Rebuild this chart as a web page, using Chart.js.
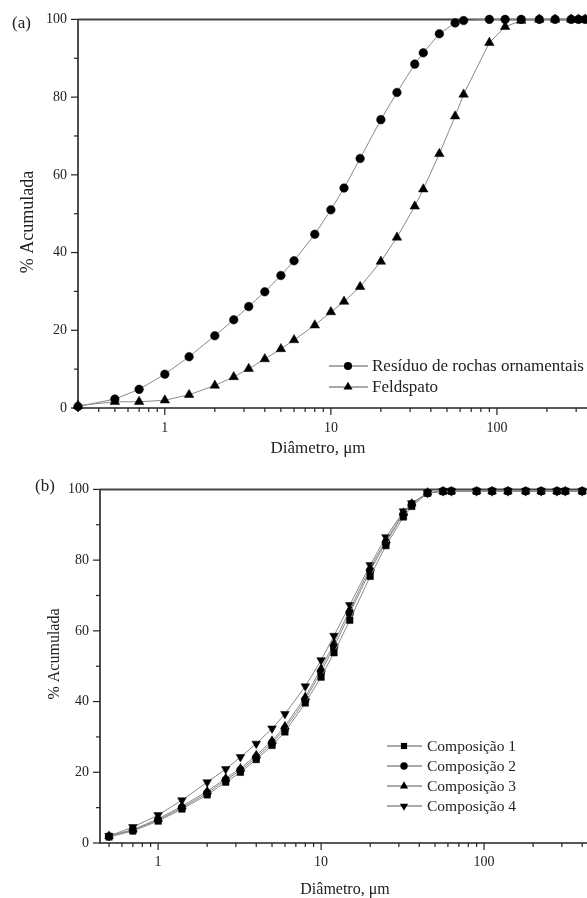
<!DOCTYPE html>
<html><head><meta charset="utf-8">
<script src="https://cdn.jsdelivr.net/npm/chart.js@4.4.1/dist/chart.umd.min.js"></script>
<style>
html,body{margin:0;padding:0;background:#fff;overflow:hidden;}
#wrap{position:relative;width:587px;height:898px;overflow:hidden;background:#fff;}
canvas{position:absolute;left:0;}
#ca{top:0;} #cb{top:470px;}
</style></head><body>
<div id="wrap"><canvas id="ca" width="640" height="470"></canvas><canvas id="cb" width="640" height="428"></canvas></div>
<script>
// ---------- data ----------
const diamA = [0.3,0.5,0.7,1,1.4,2,2.6,3.2,4,5,6,8,10,12,15,20,25,32,36,45,56,63,90,112,140,180,224,280,310,340];
const residuo = [0.4,2.3,4.8,8.7,13.2,18.6,22.7,26.1,29.9,34.1,37.9,44.7,51.0,56.6,64.2,74.2,81.2,88.5,91.4,96.3,99.1,99.7,100,100,100,100,100,100,100,100];
const feldspato = [0.6,1.6,1.6,2.0,3.4,5.8,8.0,10.1,12.6,15.2,17.5,21.3,24.7,27.4,31.2,37.7,43.9,51.9,56.3,65.4,75.1,80.7,94.0,98.1,99.7,100,100,100,100,100];

const diamB = [0.5,0.7,1,1.4,2,2.6,3.2,4,5,6,8,10,12,15,20,25,32,36,45,56,63,90,112,140,180,224,280,315,400];
const comp1 = [1.7,3.4,6.2,9.6,13.6,17.2,20.0,23.6,27.6,31.4,39.6,46.9,53.8,63.0,75.4,84.1,92.2,95.2,98.9,99.4,99.5,99.5,99.5,99.5,99.5,99.5,99.5,99.5,99.5];
const comp2 = [1.9,3.6,6.5,10.0,14.1,17.8,20.6,24.2,28.3,32.3,40.5,48.4,55.4,65.0,77.0,85.0,93.0,95.8,99.0,99.5,99.5,99.5,99.5,99.5,99.5,99.5,99.5,99.5,99.5];
const comp3 = [2.0,3.8,6.8,10.4,14.6,18.3,21.1,24.8,28.9,33.0,41.3,49.3,56.5,66.0,77.8,85.6,93.4,96.0,99.1,99.5,99.5,99.5,99.5,99.5,99.5,99.5,99.5,99.5,99.5];
const comp4 = [2.0,4.5,7.9,12.1,17.2,20.9,24.3,28.1,32.4,36.5,44.3,51.7,58.6,67.3,78.6,86.5,93.8,96.1,99.0,99.5,99.5,99.5,99.5,99.5,99.5,99.5,99.5,99.5,99.5];

const yTickLabels = [0,20,40,60,80,100];
const xTickLabels = [1,10,100];
const labelsA = ['Resíduo de rochas ornamentais','Feldspato'];
const labelsB = ['Composição 1','Composição 2','Composição 3','Composição 4'];

// ---------- helpers ----------
const SERIF = '"Liberation Serif","DejaVu Serif","Times New Roman",serif';
const TXT = '#222';
function pts(xs, ys){ return xs.map((x,i)=>({x:x, y:ys[i]})); }
function isDecade(v){ const l=Math.log10(v); return Math.abs(l-Math.round(l))<1e-9; }
function isIntSig(v){ const e=Math.floor(Math.log10(v)+1e-9); const s=v/Math.pow(10,e); return Math.abs(s-Math.round(s))<1e-6; }

function marker(ctx, style, x, y, r, rot){
  ctx.beginPath();
  if(style==='circle'){ ctx.arc(x,y,r,0,Math.PI*2); }
  else if(style==='rect'){ const s=r*Math.SQRT1_2; ctx.rect(x-s,y-s,2*s,2*s); }
  else { let rad=(rot||0)*Math.PI/180; for(let i=0;i<3;i++){ const px=x+Math.sin(rad)*r, py=y-Math.cos(rad)*r; if(i===0) ctx.moveTo(px,py); else ctx.lineTo(px,py); rad+=2*Math.PI/3; } ctx.closePath(); }
  ctx.fillStyle='#000'; ctx.fill();
}

function framePlugin(){
  return { id:'frame', beforeDatasetsDraw(chart){
    const ctx=chart.ctx, a=chart.chartArea, xs=chart.scales.x, ys=chart.scales.y;
    ctx.save(); ctx.strokeStyle='#222'; ctx.lineWidth=1.2;
    ys.ticks.forEach(t=>{ const py=ys.getPixelForValue(t.value); const len=yTickLabels.includes(t.value)?7:4;
      ctx.beginPath(); ctx.moveTo(a.left-len,py); ctx.lineTo(a.left,py); ctx.stroke(); });
    xs.ticks.forEach(t=>{ if(!isIntSig(t.value)) return; const px=xs.getPixelForValue(t.value); if(px<a.left-0.5) return; const len=isDecade(t.value)?7:4;
      ctx.beginPath(); ctx.moveTo(px,a.bottom); ctx.lineTo(px,a.bottom+len); ctx.stroke(); });
    ctx.lineWidth=1.6; ctx.strokeStyle='#222';
    ctx.beginPath(); ctx.moveTo(a.left,a.top); ctx.lineTo(a.left,a.bottom); ctx.lineTo(a.right,a.bottom); ctx.stroke();
    ctx.lineWidth=2; ctx.strokeStyle='#444';
    ctx.beginPath(); ctx.moveTo(a.left,a.top); ctx.lineTo(a.right,a.top); ctx.stroke();
    ctx.restore();
  }};
}

function textPlugin(o){
  return { id:'texts', afterDraw(chart){
    const ctx=chart.ctx; ctx.save(); ctx.fillStyle=TXT; ctx.textBaseline='middle';
    ctx.font=o.panelFont+'px '+SERIF; ctx.textAlign='left'; ctx.fillText(o.panel,o.panelX,o.panelY);
    ctx.font=o.xtFont+'px '+SERIF; ctx.textAlign='center'; ctx.fillText('Diâmetro, μm',o.xtX,o.xtY);
    ctx.save(); ctx.translate(o.ytX,o.ytY); ctx.rotate(-Math.PI/2); ctx.font=o.ytFont+'px '+SERIF; ctx.textAlign='center'; ctx.fillText('% Acumulada',0,0); ctx.restore();
    // legend
    o.legend.forEach((it,i)=>{
      const y=o.legY+i*o.legDy;
      ctx.strokeStyle='#555'; ctx.lineWidth=1; ctx.beginPath(); ctx.moveTo(o.legX1,y); ctx.lineTo(o.legX2,y); ctx.stroke();
      marker(ctx,it.style,o.legXm,y,it.r*0.95,it.rot);
      ctx.fillStyle=TXT; ctx.font=o.legFont+'px '+SERIF; ctx.textAlign='left'; ctx.fillText(it.label,o.legXt,y+1);
    });
    ctx.restore();
  }};
}

function ds(label, xs, ys, style, r, rot){
  return { label, data: pts(xs,ys), borderColor:'#8a8a8a', borderWidth:1, pointStyle:style, pointRadius:r, pointRotation:rot||0,
    pointBackgroundColor:'#000', pointBorderColor:'#000', pointBorderWidth:0.5, pointHoverRadius:r, tension:0, clip:false, fill:false };
}

function scales(o){
  return {
    x:{ type:'logarithmic', min:o.xmin, max:o.xmax, afterFit(s){ s.height=o.xh; },
      grid:{display:false, drawTicks:false}, border:{display:false},
      ticks:{ autoSkip:false, maxRotation:0, minRotation:0, padding:o.xpad, color:TXT, font:{family:SERIF,size:14},
        callback:(v)=> (isDecade(v) && xTickLabels.includes(Math.round(v))) ? String(Math.round(v)) : '' } },
    y:{ min:0, max:100, afterFit(s){ s.width=o.yw; },
      grid:{display:false, drawTicks:false}, border:{display:false},
      ticks:{ stepSize:10, padding:o.ypad, color:TXT, font:{family:SERIF,size:14},
        callback:(v)=> yTickLabels.includes(v) ? String(v) : '' } }
  };
}

const common = { responsive:false, animation:false, devicePixelRatio:1,
  plugins:{ legend:{display:false}, tooltip:{enabled:false} }, events:[] };

// ---------- chart (a) ----------
new Chart(document.getElementById('ca'), {
  type:'line',
  data:{ datasets:[ ds(labelsA[0], diamA, residuo, 'circle', 4.3), ds(labelsA[1], diamA, feldspato, 'triangle', 5.5) ] },
  options:Object.assign({}, common, {
    layout:{ padding:{ left:0, top:15, right:27, bottom:0 } },
    scales: scales({xmin:0.3, xmax:500, xh:62, yw:78, xpad:12, ypad:11})
  }),
  plugins:[ framePlugin(), textPlugin({
    panel:'(a)', panelX:12, panelY:24, panelFont:17,
    xtX:318, xtY:449, xtFont:17,
    ytX:28, ytY:222, ytFont:18,
    legX1:329, legX2:368, legXm:348, legXt:372, legY:366, legDy:21, legFont:17,
    legend:[ {label:labelsA[0], style:'circle', r:4.3}, {label:labelsA[1], style:'triangle', r:5.5} ]
  }) ]
});

// ---------- chart (b) ----------
new Chart(document.getElementById('cb'), {
  type:'line',
  data:{ datasets:[
    ds(labelsB[0], diamB, comp1, 'rect', 4.6),
    ds(labelsB[1], diamB, comp2, 'circle', 3.9),
    ds(labelsB[2], diamB, comp3, 'triangle', 5),
    ds(labelsB[3], diamB, comp4, 'triangle', 5, 180) ] },
  options:Object.assign({}, common, {
    layout:{ padding:{ left:0, top:11, right:42, bottom:0 } },
    scales: scales({xmin:0.44, xmax:500, xh:55, yw:100, xpad:11, ypad:11})
  }),
  plugins:[ framePlugin(), textPlugin({
    panel:'(b)', panelX:35, panelY:17, panelFont:17,
    xtX:345, xtY:420, xtFont:16,
    ytX:55, ytY:184, ytFont:16,
    legX1:387, legX2:422, legXm:404, legXt:427, legY:276, legDy:20, legFont:15.5,
    legend:[ {label:labelsB[0], style:'rect', r:4.6}, {label:labelsB[1], style:'circle', r:3.9},
             {label:labelsB[2], style:'triangle', r:5}, {label:labelsB[3], style:'triangle', r:5, rot:180} ]
  }) ]
});
</script>
</body></html>
